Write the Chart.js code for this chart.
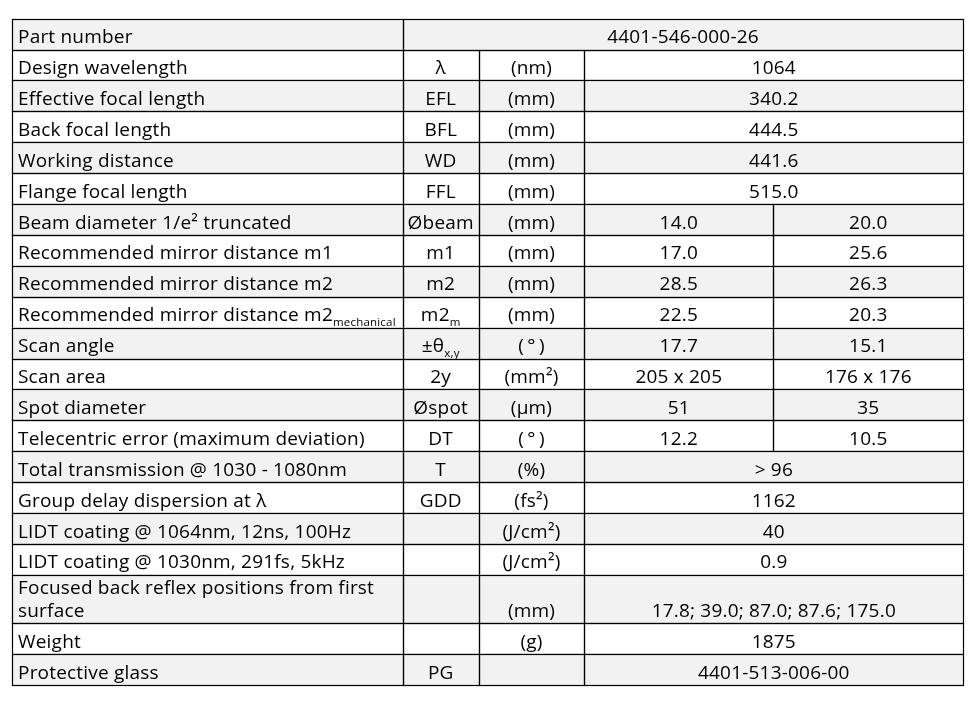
<!DOCTYPE html>
<html>
<head>
<meta charset="utf-8">
<script src="https://cdn.jsdelivr.net/npm/chart.js@4.4.0/dist/chart.umd.min.js"></script>
<style>
    html, body { margin: 0; padding: 0; background: #ffffff; }
</style>
</head>
<body>
<canvas id="tableau" width="974" height="705"></canvas>
<script>
// DONNEES DU TABLEAU (une entree par ligne)
// "_{...}" = indice, "\n" = retour a la ligne
const parametres = [
    "Part number",
    "Design wavelength",
    "Effective focal length",
    "Back focal length",
    "Working distance",
    "Flange focal length",
    "Beam diameter 1/e² truncated",
    "Recommended mirror distance m1",
    "Recommended mirror distance m2",
    "Recommended mirror distance m2_{mechanical}",
    "Scan angle",
    "Scan area",
    "Spot diameter",
    "Telecentric error (maximum deviation)",
    "Total transmission @ 1030 - 1080nm",
    "Group delay dispersion at λ",
    "LIDT coating @ 1064nm, 12ns, 100Hz",
    "LIDT coating @ 1030nm, 291fs, 5kHz",
    "Focused back reflex positions from first\nsurface",
    "Weight",
    "Protective glass"
];

// null = la valeur occupe aussi les colonnes symbole et unite
const symboles = [
    null, "λ", "EFL", "BFL", "WD", "FFL", "Øbeam", "m1", "m2", "m2_{m}",
    "±θ_{x,y}", "2y", "Øspot", "DT", "T", "GDD", "", "", "", "", "PG"
];

const unites = [
    "", "(nm)", "(mm)", "(mm)", "(mm)", "(mm)", "(mm)", "(mm)", "(mm)", "(mm)",
    "(\u2009°\u2009)", "(mm²)", "(µm)", "(\u2009°\u2009)", "(%)", "(fs²)", "(J/cm²)", "(J/cm²)",
    "(mm)", "(g)", ""
];

const valeursA = [
    "4401-546-000-26", "1064", "340.2", "444.5", "441.6", "515.0",
    "14.0", "17.0", "28.5", "22.5", "17.7", "205 x 205", "51", "12.2",
    "> 96", "1162", "40", "0.9", "17.8; 39.0; 87.0; 87.6; 175.0", "1875", "4401-513-006-00"
];

// null = valeursA fusionnee sur les deux colonnes
const valeursB = [
    null, null, null, null, null, null,
    "20.0", "25.6", "26.3", "20.3", "15.1", "176 x 176", "35", "10.5",
    null, null, null, null, null, null, null
];

// MISE EN PAGE
const largeursColonnes = [391.2, 76, 105.6, 189, 190];
const hauteurLigneSupp = 0.565; // part d'une ligne en plus par ligne de texte
const interligne = 22.4;
const margeBas = 6.4; // ligne de base au-dessus du bas de la cellule
const policeTexte = '19px "Open Sans"';
const policeIndice = '11.5px "Open Sans"';
const espacement = "0.2px";
const couleurFond = "#f2f2f2";

let bordsColonnes = [0];
largeursColonnes.forEach(l => bordsColonnes.push(bordsColonnes[bordsColonnes.length - 1] + l));

let bordsLignes = [0];
parametres.forEach(p => {
    const nbLignes = p.split("\n").length;
    bordsLignes.push(bordsLignes[bordsLignes.length - 1] + 1 + hauteurLigneSupp * (nbLignes - 1));
});

// decoupe un texte en morceaux normaux / indices
function morceaux(texte) {
    let res = [];
    const re = /_\{([^}]*)\}/g;
    let dernier = 0, m;
    while ((m = re.exec(texte)) !== null) {
        if (m.index > dernier) res.push({ t: texte.slice(dernier, m.index), indice: false });
        res.push({ t: m[1], indice: true });
        dernier = re.lastIndex;
    }
    if (dernier < texte.length) res.push({ t: texte.slice(dernier), indice: false });
    return res;
}

function ecrire(ctx, texte, x, y, align) {
    const parts = morceaux(texte);
    let largeur = 0;
    parts.forEach(p => {
        ctx.font = p.indice ? policeIndice : policeTexte;
        p.w = ctx.measureText(p.t).width;
        largeur += p.w;
    });
    let cx = align === "left" ? x : x - largeur / 2;
    parts.forEach(p => {
        ctx.font = p.indice ? policeIndice : policeTexte;
        ctx.fillText(p.t, cx, p.indice ? y + 5 : y);
        cx += p.w;
    });
}

const pluginTableau = {
    id: 'tableau',
    afterDraw(chart) {
        const ctx = chart.ctx;
        const sx = chart.scales.x;
        const sy = chart.scales.y;
        const px = c => sx.getPixelForValue(bordsColonnes[c]);

        ctx.save();
        ctx.textBaseline = "alphabetic";
        ctx.letterSpacing = espacement;
        ctx.fillStyle = "#000";

        parametres.forEach((param, i) => {
            const haut = sy.getPixelForValue(bordsLignes[i]);
            const bas = sy.getPixelForValue(bordsLignes[i + 1]);
            const lignes = param.split("\n");
            const n = lignes.length;
            const yLigne = k => bas - margeBas - (n - 1 - k) * interligne;

            // CELLULES DE LA LIGNE
            let cellules = [{ c0: 0, c1: 1, textes: lignes, align: "left" }];
            if (symboles[i] === null) {
                cellules.push({ c0: 1, c1: 5, textes: [valeursA[i]] });
            } else {
                cellules.push({ c0: 1, c1: 2, textes: [symboles[i]] });
                cellules.push({ c0: 2, c1: 3, textes: [unites[i]] });
                if (valeursB[i] === null) {
                    cellules.push({ c0: 3, c1: 5, textes: [valeursA[i]] });
                } else {
                    cellules.push({ c0: 3, c1: 4, textes: [valeursA[i]] });
                    cellules.push({ c0: 4, c1: 5, textes: [valeursB[i]] });
                }
            }

            // FOND UNE LIGNE SUR DEUX
            if (i % 2 === 0) {
                ctx.fillStyle = couleurFond;
                ctx.fillRect(px(0), haut, px(5) - px(0), bas - haut);
            }

            ctx.strokeStyle = "#000";
            ctx.lineWidth = 1.2;
            cellules.forEach(cel => {
                const x0 = px(cel.c0), x1 = px(cel.c1);
                ctx.strokeRect(Math.round(x0) + 0.5, Math.round(haut) + 0.5,
                    Math.round(x1) - Math.round(x0), Math.round(bas) - Math.round(haut));
                ctx.fillStyle = "#000";
                if (cel.align === "left") {
                    cel.textes.forEach((t, k) => ecrire(ctx, t, x0 + 6.5, yLigne(k), "left"));
                } else {
                    // texte aligne sur la derniere ligne de la cellule de gauche
                    ecrire(ctx, cel.textes[0], (x0 + x1) / 2, yLigne(n - 1), "center");
                }
            });
        });
        ctx.restore();
    }
};

const graph = document.getElementById('tableau');

new Chart(graph, {
    type: 'scatter',
    data: {
        datasets: [{ data: [] }]
    },
    options: {
        responsive: false,
        animation: false,
        devicePixelRatio: 1,
        layout: {
            padding: { left: 11.5, top: 18.7, right: 10.7, bottom: 20 }
        },
        plugins: {
            legend: { display: false },
            tooltip: { enabled: false }
        },
        scales: {
            x: {
                type: 'linear',
                display: false,
                min: 0,
                max: bordsColonnes[bordsColonnes.length - 1]
            },
            y: {
                type: 'linear',
                display: false,
                reverse: true,
                min: 0,
                max: bordsLignes[bordsLignes.length - 1]
            }
        }
    },
    plugins: [pluginTableau]
});
</script>
</body>
</html>
